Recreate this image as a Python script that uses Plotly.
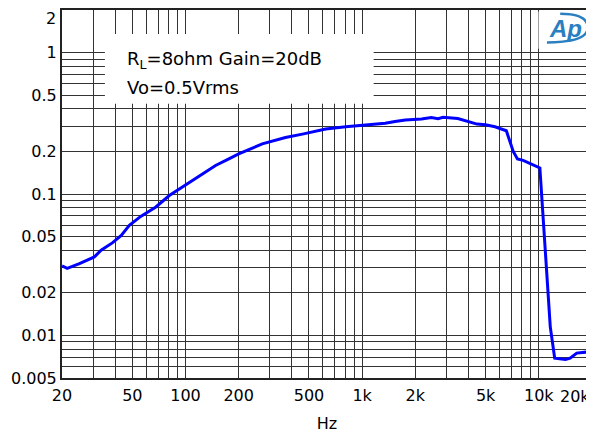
import plotly.graph_objects as go

# Data (THD+N % vs frequency)
freq_hz = [20, 21.4, 25.1, 30.5, 33.3, 38.7, 43.3, 48.1, 55.8, 68, 81, 105, 114, 120,
           148, 176, 200, 272, 368, 459, 622, 808, 1005, 1140, 1350, 1535, 1755, 2168,
           2462, 2690, 2870, 3480, 4010, 4467, 4989, 5650, 6550, 7165, 7570, 8150, 10140,
           11610, 12300, 14150, 15040, 16400, 20000]
thd_pct = [0.031, 0.0298, 0.0322, 0.0359, 0.040, 0.0453, 0.051, 0.060, 0.0694, 0.081,
           0.0976, 0.121, 0.128, 0.135, 0.159, 0.177, 0.192, 0.226, 0.251, 0.265, 0.288,
           0.299, 0.307, 0.313, 0.316, 0.326, 0.333, 0.339, 0.347, 0.341, 0.349, 0.342,
           0.326, 0.312, 0.309, 0.299, 0.280, 0.200, 0.177, 0.173, 0.153, 0.0115, 0.0069,
           0.00675, 0.0069, 0.0075, 0.0077]

x_tick_vals = [20, 50, 100, 200, 500, 1000, 2000, 5000, 10000, 20000]
x_tick_text = ["20", "50", "100", "200", "500", "1k", "2k", "5k", "10k", "20k"]
y_tick_vals = [2, 1, 0.5, 0.2, 0.1, 0.05, 0.02, 0.01, 0.005]
y_tick_text = ["2", "1", "0.5", "0.2", "0.1", "0.05", "0.02", "0.01", "0.005"]

note_line1 = "R<sub>L</sub>=8ohm Gain=20dB"
note_line2 = "Vo=0.5Vrms"
x_title = "Hz"

FONT = "DejaVu Sans"
GRID = "#333333"

fig = go.Figure()
fig.add_trace(go.Scatter(x=freq_hz, y=thd_pct, mode="lines",
                         line=dict(color="#0000FF", width=3), showlegend=False,
                         hoverinfo="x+y"))

# page body has an 8px margin: figure is 586x426 so it ends at the window edge
fig.update_layout(
    width=586, height=426,
    margin=dict(l=54, r=0, t=1, b=56),
    paper_bgcolor="white", plot_bgcolor="white",
    font=dict(family=FONT, size=16, color="black"),
    xaxis=dict(type="log", range=[1.30103, 4.30103],
               tickvals=x_tick_vals[:-1], ticktext=x_tick_text[:-1],
               showgrid=True, gridcolor=GRID, gridwidth=1,
               minor=dict(dtick="D1", showgrid=True, gridcolor=GRID, gridwidth=1, ticks=""),
               showline=True, linecolor="#222", linewidth=2, mirror=True,
               ticks="", tickfont=dict(family=FONT, size=16), ticklabelstandoff=2,
               title=dict(text=x_title, font=dict(family=FONT, size=16), standoff=14),
               zeroline=False),
    yaxis=dict(type="log", range=[-2.30103, 0.30103],
               tickvals=y_tick_vals[1:], ticktext=y_tick_text[1:],
               showgrid=True, gridcolor=GRID, gridwidth=1,
               minor=dict(dtick="D1", showgrid=True, gridcolor=GRID, gridwidth=1, ticks=""),
               showline=True, linecolor="#222", linewidth=2, mirror=True,
               ticks="", tickfont=dict(family=FONT, size=16),
               zeroline=False),
)

# top y tick label (at the upper edge of the plot)
fig.add_annotation(x=0, xref="paper", y=1, yref="paper", xshift=-4, yshift=3,
                   text=y_tick_text[0], showarrow=False, xanchor="right", yanchor="top",
                   font=dict(family=FONT, size=16, color="black"))
# last x tick label placed inside the figure edge
fig.add_annotation(x=1.0, xref="paper", y=0, yref="paper", yshift=-7,
                   text=x_tick_text[-1], showarrow=False, xanchor="right", yanchor="top",
                   font=dict(family=FONT, size=16, color="black"))

# white note box hiding the grid
fig.add_shape(type="rect", xref="paper", yref="paper", x0=0.081, x1=0.588, y0=0.745, y1=0.935,
              fillcolor="white", line=dict(width=0), layer="above")
fig.add_annotation(x=0.118, xref="paper", y=0.865, yref="paper", text=note_line1,
                   showarrow=False, xanchor="left", yanchor="middle",
                   font=dict(family=FONT, size=18, color="black"))
fig.add_annotation(x=0.118, xref="paper", y=0.79, yref="paper", text=note_line2,
                   showarrow=False, xanchor="left", yanchor="middle",
                   font=dict(family=FONT, size=18, color="black"))

# AP logo area
fig.add_shape(type="rect", xref="paper", yref="paper", x0=0.899, x1=0.997, y0=0.895, y1=0.996,
              fillcolor="white", line=dict(width=0), layer="above")
fig.add_shape(type="path", xref="paper", yref="paper",
              path="M 0.915,0.912 Q 0.992,0.912 0.992,0.952 Q 0.992,0.99 0.94,0.99",
              line=dict(color="#2a7fc0", width=2.5), layer="above")
fig.add_annotation(x=0.95, xref="paper", y=0.95, yref="paper", text="<b><i>Ap</i></b>",
                   showarrow=False, xanchor="center", yanchor="middle",
                   font=dict(family="Liberation Sans", size=24, color="#2a7fc0"))

fig.write_html("out.html")
